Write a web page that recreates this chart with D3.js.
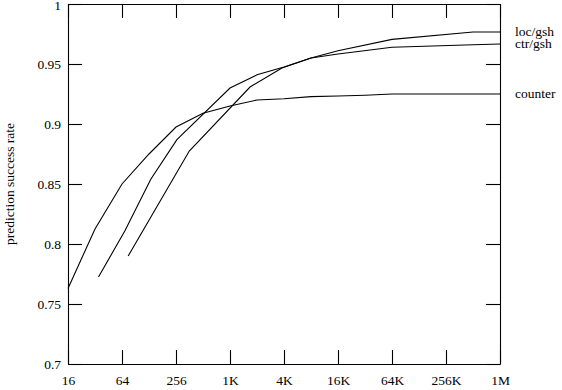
<!DOCTYPE html>
<html>
<head>
<meta charset="utf-8">
<script src="https://cdn.jsdelivr.net/npm/d3@7"></script>
<style>
  body { margin: 0; background: #fff; }
  svg text { font-family: "Liberation Serif", "DejaVu Serif", serif; }
</style>
</head>
<body>
<div id="chart"></div>
<script>
// predictor size (x) and success rate (y)
const counterSize = [16, 32, 64, 128, 256, 512, 1024, 2048, 4096, 8192, 16384, 32768, 65536, 1048576];
const counterRate = [0.763, 0.8125, 0.85, 0.875, 0.8975, 0.909, 0.915, 0.92, 0.921, 0.9228, 0.9233, 0.924, 0.925, 0.925];

const ctrSize = [35, 69, 134, 262, 1024, 2048, 4096, 8192, 16384, 65536, 524288, 1048576];
const ctrRate = [0.7725, 0.811, 0.854, 0.887, 0.93, 0.941, 0.9475, 0.955, 0.9583, 0.964, 0.966, 0.9667];

const locSize = [75, 360, 1712, 3890, 8192, 16384, 65536, 524288, 1048576];
const locRate = [0.79, 0.8775, 0.9308, 0.9467, 0.955, 0.961, 0.9705, 0.9767, 0.9767];

const seriesNames = ["loc/gsh", "ctr/gsh", "counter"];

const xTicks = [16, 64, 256, 1024, 4096, 16384, 65536, 262144, 1048576];
const xTickLabels = ["16", "64", "256", "1K", "4K", "16K", "64K", "256K", "1M"];
const yTicks = [0.7, 0.75, 0.8, 0.85, 0.9, 0.95, 1];
const yTickLabels = ["0.7", "0.75", "0.8", "0.85", "0.9", "0.95", "1"];

const width = 562, height = 390;
const margin = { top: 4, right: 62, bottom: 26, left: 68 };
const fontSize = "13.5px";

const svg = d3.select("#chart")
              .append("svg")
              .attr("width", width)
              .attr("height", height);

const x = d3.scaleLog()
            .base(2)
            .domain([16, 1048576])
            .range([margin.left, width - margin.right]);

const y = d3.scaleLinear()
            .domain([0.7, 1])
            .range([height - margin.bottom, margin.top]);

function styleAxis(g) {
  g.attr("font-family", '"Liberation Serif", serif');
  g.selectAll("path, line").attr("stroke", "#000").attr("stroke-width", 1.1);
  g.selectAll("text")
   .attr("fill", "#000")
   .style("font-family", '"Liberation Serif", serif')
   .style("font-size", fontSize);
}

// bottom + top
svg.append("g")
   .attr("transform", `translate(0,${y(0.7)})`)
   .call(d3.axisBottom(x)
           .tickValues(xTicks)
           .tickFormat((d, i) => xTickLabels[i])
           .tickSizeInner(-14)
           .tickSizeOuter(0)
           .tickPadding(11))
   .call(styleAxis);

svg.append("g")
   .attr("transform", `translate(0,${y(1)})`)
   .call(d3.axisTop(x)
           .tickValues(xTicks)
           .tickFormat("")
           .tickSizeInner(-14)
           .tickSizeOuter(0))
   .call(styleAxis);

// left + right
const yAxis = svg.append("g")
   .attr("transform", `translate(${x(16)},0)`)
   .call(d3.axisLeft(y)
           .tickValues(yTicks)
           .tickFormat((d, i) => yTickLabels[i])
           .tickSizeInner(-14)
           .tickSizeOuter(0)
           .tickPadding(7))
   .call(styleAxis);

// keep the top "1" inside the page
yAxis.selectAll(".tick text")
     .filter(d => d === 1)
     .attr("dy", "0.42em");

svg.append("g")
   .attr("transform", `translate(${x(1048576)},0)`)
   .call(d3.axisRight(y)
           .tickValues(yTicks)
           .tickFormat("")
           .tickSizeInner(-14)
           .tickSizeOuter(0))
   .call(styleAxis);

svg.append("text")
   .attr("text-anchor", "middle")
   .attr("transform", `translate(14,${(y(0.7) + y(1)) / 2}) rotate(-90)`)
   .style("font-size", fontSize)
   .text("prediction success rate");

const series = [
  { name: seriesNames[0], size: locSize, rate: locRate },
  { name: seriesNames[1], size: ctrSize, rate: ctrRate },
  { name: seriesNames[2], size: counterSize, rate: counterRate }
];

const line = d3.line()
               .x(d => x(d[0]))
               .y(d => y(d[1]));

series.forEach(s => {
  const pts = s.size.map((v, i) => [v, s.rate[i]]);
  svg.append("path")
     .datum(pts)
     .attr("fill", "none")
     .attr("stroke", "#000")
     .attr("stroke-width", 1.1)
     .attr("d", line);

  const last = pts[pts.length - 1];
  svg.append("text")
     .attr("x", x(last[0]) + 15)
     .attr("y", y(last[1]))
     .attr("dy", "0.3em")
     .style("font-size", fontSize)
     .text(s.name);
});
</script>
</body>
</html>
